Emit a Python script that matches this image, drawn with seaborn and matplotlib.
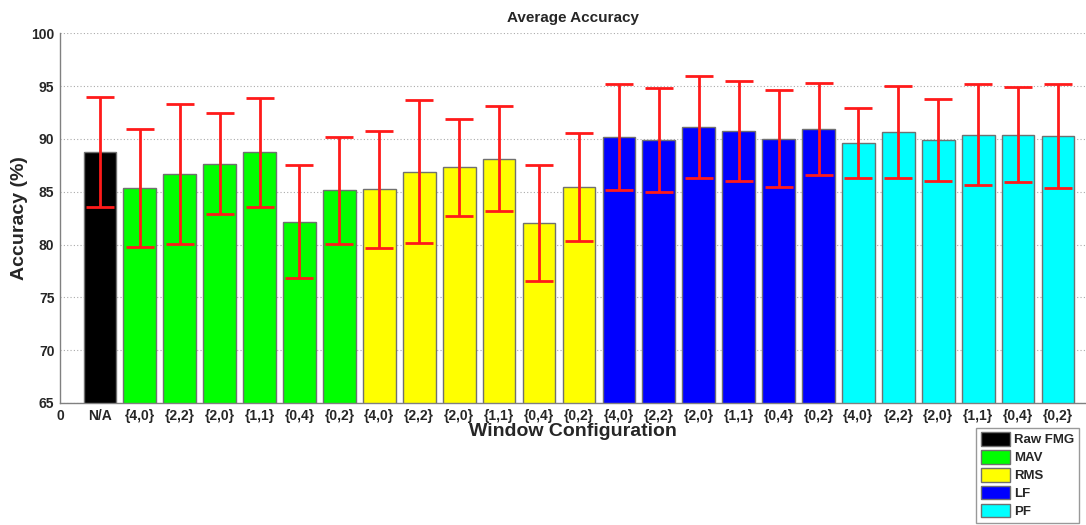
import numpy as np
import pandas as pd
import matplotlib
matplotlib.use("Agg")
import matplotlib.pyplot as plt
import seaborn as sns

# ---- data ----
configs = ["N/A",
           "{4,0}", "{2,2}", "{2,0}", "{1,1}", "{0,4}", "{0,2}",
           "{4,0}", "{2,2}", "{2,0}", "{1,1}", "{0,4}", "{0,2}",
           "{4,0}", "{2,2}", "{2,0}", "{1,1}", "{0,4}", "{0,2}",
           "{4,0}", "{2,2}", "{2,0}", "{1,1}", "{0,4}", "{0,2}"]
groups = ["Raw FMG"] + ["MAV"] * 6 + ["RMS"] * 6 + ["LF"] * 6 + ["PF"] * 6
accuracy = [88.8,
            85.35, 86.7, 87.65, 88.73, 82.17, 85.12,
            85.24, 86.89, 87.3, 88.13, 82.05, 85.43,
            90.18, 89.87, 91.1, 90.75, 90.03, 90.91,
            89.61, 90.66, 89.93, 90.41, 90.41, 90.28]
std_err = [5.2,
           5.6, 6.65, 4.8, 5.15, 5.35, 5.08,
           5.55, 6.75, 4.58, 5.0, 5.46, 5.14,
           5.0, 4.93, 4.83, 4.78, 4.58, 4.37,
           3.27, 4.33, 3.87, 4.75, 4.5, 4.95]
group_names = ["Raw FMG", "MAV", "RMS", "LF", "PF"]
group_colors = ["#000000", "#00FF00", "#FFFF00", "#0000FF", "#00FFFF"]

positions = np.arange(1, len(configs) + 1)
df = pd.DataFrame({"pos": positions, "acc": accuracy, "group": groups})

sns.set_style("white")
plt.rcParams["font.family"] = ["Liberation Sans", "DejaVu Sans"]

fig = plt.figure(figsize=(10.86, 5.25), dpi=100)
ax = fig.add_axes([0.0552, 0.2324, 0.9448, 0.7042])

sns.barplot(data=df, x="pos", y="acc", hue="group", hue_order=group_names,
            palette=dict(zip(group_names, group_colors)), native_scale=True,
            dodge=False, width=0.82, edgecolor="#707070", linewidth=1.0,
            saturation=1, errorbar=None, ax=ax, legend=True)

ax.errorbar(positions, accuracy, yerr=std_err, fmt="none", ecolor="#FF1A1A",
            elinewidth=2.0, capsize=10, capthick=2.0, zorder=5)

ax.set_xlim(0, 25.7)
ax.set_ylim(65, 100)
ax.set_yticks(np.arange(65, 101, 5))
ax.set_xticks(np.concatenate([[0], positions]))
ax.set_xticklabels(["0"] + configs)
for lbl in ax.get_xticklabels() + ax.get_yticklabels():
    lbl.set_fontweight("bold")
    lbl.set_fontsize(10)

ax.yaxis.grid(True, linestyle=(0, (1, 2)), color="#AAAAAA", linewidth=0.8)
ax.xaxis.grid(False)
ax.set_axisbelow(True)
for side in ["top", "right"]:
    ax.spines[side].set_visible(False)
for side in ["left", "bottom"]:
    ax.spines[side].set_color("#808080")
    ax.spines[side].set_linewidth(1.0)
ax.tick_params(axis="y", direction="in", length=5, color="#808080", pad=4)
ax.tick_params(axis="x", direction="in", length=0, pad=4)

ax.set_title("Average Accuracy", fontsize=11, fontweight="bold", pad=8)
ax.set_ylabel("Accuracy (%)", fontsize=14, fontweight="bold", labelpad=2)
ax.set_xlabel("Window Configuration", fontsize=14, fontweight="bold", labelpad=0)

handles, labels = ax.get_legend_handles_labels()
ax.get_legend().remove()
leg = fig.legend(handles, labels, loc="lower left",
                 bbox_to_anchor=(976 / 1086, 2 / 525),
                 prop={"weight": "bold", "size": 9.5},
                 frameon=True, fancybox=False, edgecolor="#808080",
                 handlelength=2.2, handleheight=1.15, handletextpad=0.35,
                 labelspacing=0.3, borderpad=0.35, borderaxespad=0)
leg.get_frame().set_linewidth(1.0)

fig.savefig("out.png", dpi=100)
